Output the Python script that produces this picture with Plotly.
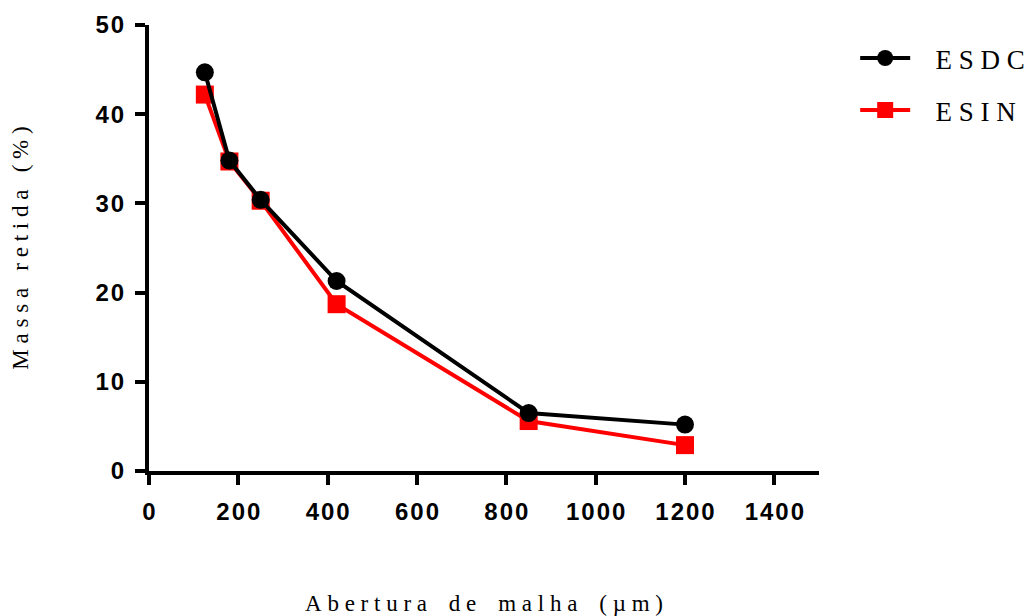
import plotly.graph_objects as go

# Sieve aperture (µm) and retained mass (%) for each sample
abertura = [125, 180, 250, 420, 850, 1200]
esdc = [44.7, 34.8, 30.4, 21.3, 6.5, 5.2]
esin = [42.2, 34.7, 30.3, 18.7, 5.6, 2.9]

x_ticks = [0, 200, 400, 600, 800, 1000, 1200, 1400]
y_ticks = [0, 10, 20, 30, 40, 50]

NBSP = "\u00a0"
THIN = "\u2009"
HAIR = "\u200a"


def spaced(text, gap):
    return gap.join(text)


tick_font = dict(family="Liberation Sans, Arial, sans-serif", size=24,
                 color="black", weight="bold")
serif = "Liberation Serif, Times New Roman, serif"

word_gap = NBSP * 3 + THIN
x_title = (NBSP.join(["A", spaced("bertura", NBSP)]) + word_gap + spaced("de", NBSP) + word_gap
           + NBSP.join(["m", spaced("alha", NBSP)]) + word_gap
           + NBSP.join([spaced("(µm", NBSP), ")"]))
y_title = (spaced("Massa", NBSP) + NBSP * 3 + spaced("retida", NBSP) + NBSP * 3
           + spaced("(%)", NBSP))

fig = go.Figure()
fig.add_trace(go.Scatter(
    x=abertura, y=esin, name=NBSP * 3 + "E S I N", mode="lines+markers",
    legendgroup="esin", legendrank=2,
    line=dict(color="#ff0000", width=4),
    marker=dict(symbol="square", size=18, color="#ff0000"),
    cliponaxis=False,
))
fig.add_trace(go.Scatter(
    x=abertura, y=esdc, name=NBSP * 3 + "E S D C", mode="lines+markers",
    legendgroup="esdc", legendrank=1,
    line=dict(color="black", width=4),
    marker=dict(symbol="circle", size=18, color="black"),
    cliponaxis=False,
))

fig.update_layout(
    width=1027, height=616,
    margin=dict(l=149, r=208, t=25, b=145, autoexpand=False),
    paper_bgcolor="white", plot_bgcolor="white",
    showlegend=True,
    legend=dict(
        x=1.054, y=0.98, xanchor="left", yanchor="top",
        traceorder="grouped",
        font=dict(family=serif, size=27, color="black"),
        itemwidth=50, tracegroupgap=14,
        bgcolor="rgba(0,0,0,0)",
    ),
    xaxis=dict(
        range=[0, 1500],
        tickvals=x_ticks, ticktext=[spaced(str(v), HAIR) for v in x_ticks],
        showline=True, linecolor="black", linewidth=4,
        ticks="outside", ticklen=10, tickwidth=4, tickcolor="black",
        showgrid=False, zeroline=False,
        tickfont=tick_font, ticklabelstandoff=6,
        title=dict(text=x_title, font=dict(family=serif, size=23, color="black"), standoff=73),
    ),
    yaxis=dict(
        range=[0, 50],
        tickvals=y_ticks, ticktext=[spaced(str(v), HAIR) for v in y_ticks],
        showline=True, linecolor="black", linewidth=4,
        ticks="outside", ticklen=10, tickwidth=4, tickcolor="black",
        showgrid=False, zeroline=False,
        tickfont=tick_font, ticklabelstandoff=6,
        title=dict(text=y_title, font=dict(family=serif, size=23, color="black"), standoff=61),
    ),
)

fig.write_html("out.html")
